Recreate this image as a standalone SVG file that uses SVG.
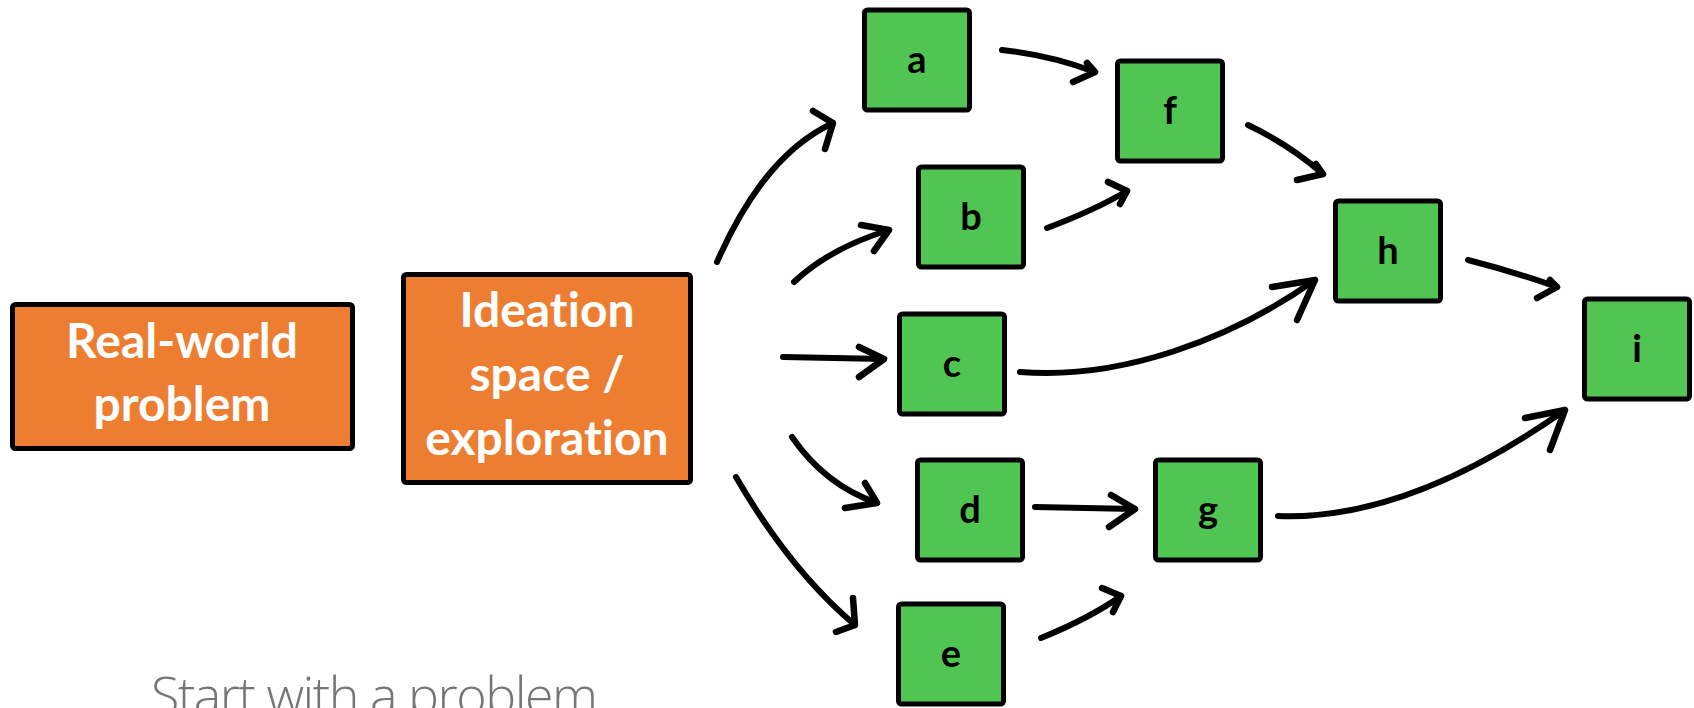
<svg xmlns="http://www.w3.org/2000/svg" width="1694" height="708" viewBox="0 0 1694 708">
<style>
.orange{fill:#ED7D31;stroke:#000;stroke-width:5}
.green{fill:#51C551;stroke:#000;stroke-width:5}
.otxt{font-family:Lato,"Open Sans","Liberation Sans",sans-serif;font-weight:700;font-size:48px;fill:#fff;text-anchor:middle;font-variant-ligatures:none;font-feature-settings:"liga" 0}
.gtxt{font-family:Lato,"Open Sans","Liberation Sans",sans-serif;font-weight:700;font-size:38px;fill:#000;text-anchor:middle}
.line{fill:none;stroke:#000;stroke-width:6;stroke-linecap:round;stroke-linejoin:round}
.mid{fill:none;stroke:#000;stroke-width:8;stroke-linecap:round}
.head{fill:none;stroke:#000;stroke-width:6.5;stroke-linecap:round;stroke-linejoin:round}
.caption{font-family:"Open Sans","Liberation Sans",sans-serif;font-weight:300;font-size:52px;fill:#767676}
</style>
<rect width="1694" height="708" fill="#fff"/>
<g id="real-world">
<rect class="orange" x="12.5" y="304.5" width="340" height="144" rx="3"/>
<text class="otxt" x="182" y="358">Real-world</text>
<text class="otxt" x="182" y="421">problem</text>
</g>
<g id="ideation">
<rect class="orange" x="403.5" y="274.5" width="287" height="208" rx="3"/>
<text class="otxt" x="547" y="327">Ideation</text>
<text class="otxt" x="547" y="391">space /</text>
<text class="otxt" x="547" y="455">exploration</text>
</g>
<g id="a"><rect class="green" x="864.5" y="10" width="105" height="100" rx="3"/><text class="gtxt" x="917" y="73">a</text></g>
<g id="f"><rect class="green" x="1117.5" y="61" width="105" height="100" rx="3"/><text class="gtxt" x="1170" y="124">f</text></g>
<g id="b"><rect class="green" x="918.5" y="167" width="105" height="100" rx="3"/><text class="gtxt" x="971" y="230">b</text></g>
<g id="h"><rect class="green" x="1335.5" y="201" width="105" height="100" rx="3"/><text class="gtxt" x="1388" y="264">h</text></g>
<g id="c"><rect class="green" x="899.5" y="314" width="105" height="100" rx="3"/><text class="gtxt" x="952" y="377">c</text></g>
<g id="i"><rect class="green" x="1584.5" y="299" width="105" height="100" rx="3"/><text class="gtxt" x="1637" y="362">i</text></g>
<g id="d"><rect class="green" x="917.5" y="460" width="105" height="100" rx="3"/><text class="gtxt" x="970" y="523">d</text></g>
<g id="g"><rect class="green" x="1155.5" y="460" width="105" height="100" rx="3"/><text class="gtxt" x="1208" y="523">g</text></g>
<g id="e"><rect class="green" x="898.5" y="604" width="105" height="100" rx="3"/><text class="gtxt" x="951" y="667">e</text></g>
<g id="connectors">
<path class="line" d="M717,262 C740,210 775,150 833,123"/><path class="head" d="M813,111 L833,123 L825,149"/>
<path class="line" d="M794,282 Q830,248 889,230"/><path class="head" d="M861,225 L889,230 L874,251"/>
<path class="line" d="M783,357 L884,359"/><path class="head" d="M859,347 L884,359 L859,377"/>
<path class="line" d="M792,437 Q825,485 877,503"/><path class="head" d="M865,483 L877,503 L845,508"/>
<path class="line" d="M736,477 Q790,570 855,625"/><path class="head" d="M853,598 L855,625 L836,632"/>
<path class="line" d="M1002,50 Q1050,55 1095,72"/><path class="head" d="M1087,63 L1095,72 L1073,82"/>
<path class="line" d="M1047,228 Q1095,210 1127,191"/><path class="head" d="M1108,182 L1127,191 L1120,204"/>
<path class="line" d="M1248,125 Q1290,145 1323,174"/><path class="head" d="M1316,164 L1323,174 L1297,180"/>
<path class="line" d="M1020,372 C1120,380 1230,340 1315,280"/><path class="head" d="M1272,287 L1315,280 L1297,320"/>
<path class="line" d="M1468,260 Q1515,272 1557,287"/><path class="head" d="M1550,280 L1557,287 L1537,298"/>
<path class="line" d="M1035,507 L1135,509"/><path class="head" d="M1111,495 L1135,509 L1109,527"/>
<path class="line" d="M1041,638 Q1090,618 1121,596"/><path class="head" d="M1102,588 L1121,596 L1113,612"/>
<path class="line" d="M1278,516 C1380,520 1480,470 1565,410"/><path class="head" d="M1525,418 L1565,410 L1550,450"/>
</g>
<text class="caption" x="151" y="714" textLength="447">Start with a problem</text>
</svg>
